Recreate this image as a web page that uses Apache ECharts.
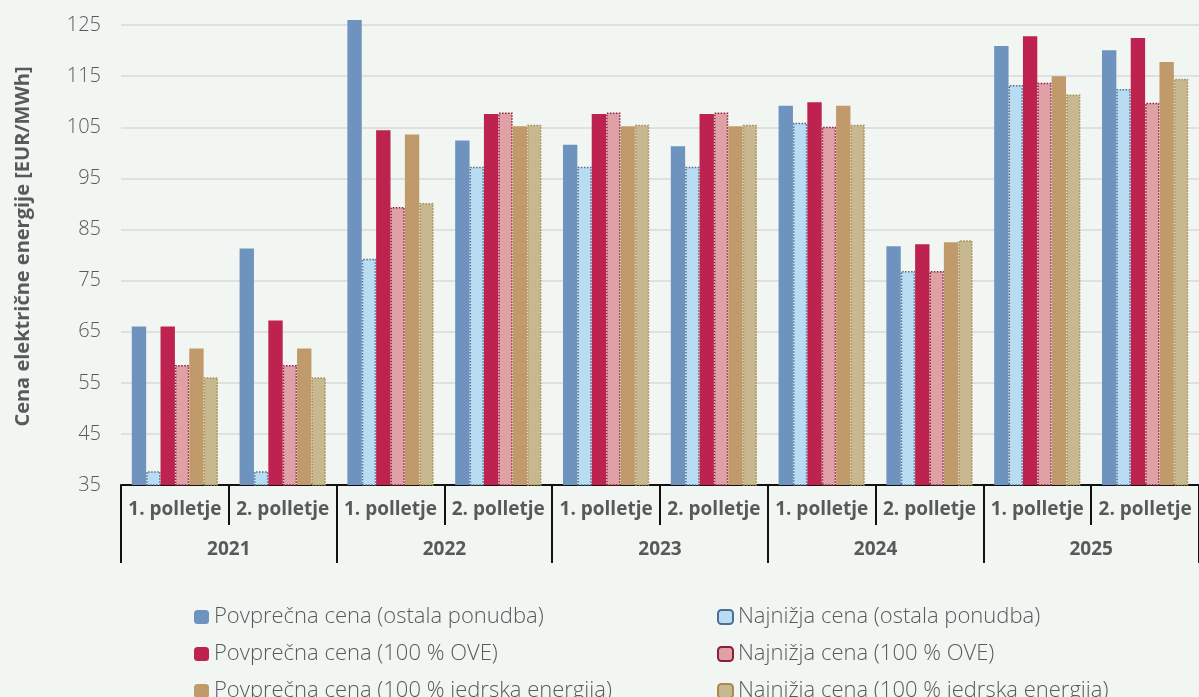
<!DOCTYPE html>
<html><head><meta charset="utf-8">
<script src="https://cdn.jsdelivr.net/npm/echarts@6/dist/echarts.min.js"></script>
<style>html,body{margin:0;padding:0;background:#F2F6F3;}#c{width:1199px;height:697px;}</style>
</head><body><div id="c"></div>
<script>
const categories = ['1. polletje','2. polletje','1. polletje','2. polletje','1. polletje','2. polletje','1. polletje','2. polletje','1. polletje','2. polletje'];
const years = ['2021','2022','2023','2024','2025'];
const yTicks = [35,45,55,65,75,85,95,105,115,125];
const avgOther   = [66.0, 81.3, 126.0, 102.4, 101.6, 101.3, 109.2, 81.7, 120.9, 120.1];
const minOther   = [37.7, 37.7, 79.3, 97.3, 97.3, 97.3, 105.9, 76.9, 113.3, 112.5];
const avgRes     = [66.0, 67.2, 104.4, 107.6, 107.6, 107.6, 109.9, 82.1, 122.8, 122.5];
const minRes     = [58.5, 58.5, 89.4, 107.9, 107.9, 107.9, 105.1, 76.9, 113.7, 109.8];
const avgNuclear = [61.7, 61.7, 103.6, 105.2, 105.2, 105.2, 109.2, 82.5, 115.0, 117.8];
const minNuclear = [56.1, 56.1, 90.2, 105.5, 105.5, 105.5, 105.5, 82.9, 111.4, 114.5];
const names = ['Povprečna cena (ostala ponudba)','Najnižja cena (ostala ponudba)','Povprečna cena (100 % OVE)','Najnižja cena (100 % OVE)','Povprečna cena (100 % jedrska energija)','Najnižja cena (100 % jedrska energija)'];

const FONT = 'Open Sans';
const TXT = '#595959';
function bar(name, data, color, dotted, border){
  const s = {name, type:'bar', data, barGap:'0%', barCategoryGap:'20%',
    itemStyle:{color}};
  if(dotted){ s.itemStyle.borderColor = border; s.itemStyle.borderWidth = 1.5; s.itemStyle.borderType = 'dotted'; }
  return s;
}
const legendText = {fontFamily:FONT, fontSize:22, fontWeight:300, color:TXT, lineHeight:24};
const chart = echarts.init(document.getElementById('c'));
chart.setOption({
  backgroundColor:'#F2F6F3',
  animation:false,
  textStyle:{fontFamily:FONT},
  grid:{left:121, right:0, top:20, bottom:212, containLabel:false},
  legend:[
    {data:[names[0],names[2],names[4]], orient:'vertical', left:194, top:605, height:150, padding:0,
     itemWidth:15, itemHeight:14, itemGap:13, textStyle:legendText},
    {data:[names[1],names[3],names[5]], orient:'vertical', left:717, top:605, height:150, padding:0,
     itemWidth:15, itemHeight:14, itemGap:13, textStyle:legendText}
  ],
  xAxis:[
    {type:'category', data:categories, position:'bottom',
     axisLine:{show:true, lineStyle:{color:'#111', width:2}},
     axisTick:{show:true, interval:0, length:40, lineStyle:{color:'#111', width:2}},
     axisLabel:{interval:0, margin:15, fontFamily:FONT, fontSize:19, fontWeight:'bold', color:TXT}},
    {type:'category', data:years, position:'bottom', offset:40,
     axisLine:{show:false},
     axisTick:{show:true, interval:0, length:38, lineStyle:{color:'#111', width:2}},
     axisLabel:{interval:0, margin:15, fontFamily:FONT, fontSize:19, fontWeight:'bold', color:TXT}}
  ],
  yAxis:{type:'value', min:35, max:126,
    name:'Cena električne energije [EUR/MWh]', nameLocation:'middle', nameGap:88, nameRotate:90,
    nameTextStyle:{fontFamily:FONT, fontSize:20, fontWeight:'bold', color:TXT, padding:[0,0,0,12]},
    axisLine:{show:false},
    axisTick:{show:false, customValues:yTicks},
    axisLabel:{customValues:yTicks, margin:20, fontFamily:FONT, fontSize:20, fontWeight:300, color:TXT},
    splitLine:{show:true, lineStyle:{color:'#D9D9D9', width:1.5}}
  },
  series:[
    bar(names[0], avgOther, '#6E93BE', false),
    bar(names[1], minOther, '#B8DCF2', true, '#4F6D8F'),
    bar(names[2], avgRes, '#BE224E', false),
    bar(names[3], minRes, '#DFA1A6', true, '#8C1F3E'),
    bar(names[4], avgNuclear, '#C09A6B', false),
    bar(names[5], minNuclear, '#C8B890', true, '#A88A4E')
  ]
});
</script></body></html>
